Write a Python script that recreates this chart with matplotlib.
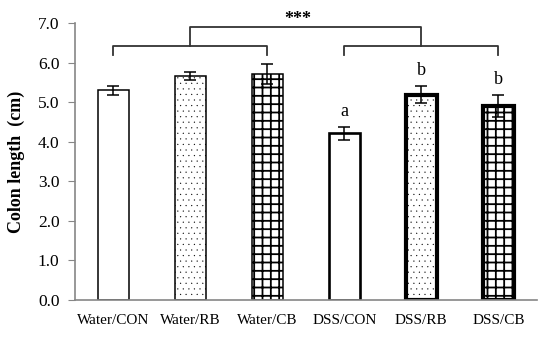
import matplotlib
matplotlib.use('Agg')
import matplotlib.pyplot as plt

plt.rcParams['font.family'] = ['Liberation Serif', 'DejaVu Serif']
plt.rcParams['hatch.linewidth'] = 1.3

groups = ['Water/CON', 'Water/RB', 'Water/CB', 'DSS/CON', 'DSS/RB', 'DSS/CB']
lengths = [5.3, 5.66, 5.71, 4.21, 5.19, 4.91]
errors = [0.11, 0.10, 0.26, 0.16, 0.21, 0.28]
letters = ['', '', '', 'a', 'b', 'b']
hatches = ['', '...', '++', '', '...', '++']
edge_w = [1.1, 1.1, 1.1, 1.9, 3.0, 3.0]

fig = plt.figure(figsize=(5.5, 3.39), dpi=100)
ax = fig.add_axes([0.136, 0.115, 0.84, 0.817])

x = range(len(groups))
for i in x:
    b = ax.bar(i, lengths[i], width=0.4, color='white', edgecolor='black',
               hatch=hatches[i], linewidth=edge_w[i], zorder=2)
    if hatches[i] == '...':
        b[0].set_hatch_linewidth(0.1)
ax.errorbar(list(x), lengths, yerr=errors, fmt='none', ecolor='black',
            elinewidth=1.1, capsize=4, capthick=1.1, zorder=3)

for i in x:
    if letters[i]:
        ax.text(i, lengths[i] + errors[i] + 0.18, letters[i], ha='center',
                va='bottom', fontsize=13)

# significance brackets
bk = dict(color='#333333', lw=1.3, clip_on=False)
ax.plot([0, 0, 2, 2], [6.2, 6.42, 6.42, 6.2], **bk)
ax.plot([3, 3, 5, 5], [6.2, 6.42, 6.42, 6.2], **bk)
ax.plot([1, 1, 4, 4], [6.42, 6.9, 6.9, 6.42], **bk)
ax.text(2.4, 7.1, '***', ha='center', va='center', fontsize=13,
        fontweight='bold', clip_on=False)

ax.set_xlim(-0.5, 5.5)
ax.set_ylim(0, 7)
ax.set_yticks([0, 1, 2, 3, 4, 5, 6, 7])
ax.set_yticklabels(['%.1f' % v for v in range(8)], fontsize=12.5)
ax.set_xticks(list(x))
ax.set_xticklabels(groups, fontsize=11)
ax.tick_params(axis='x', length=0, pad=10)
ax.tick_params(axis='y', length=5, color='#868686', pad=6)
ax.set_ylabel('Colon length  (cm)', fontsize=13, fontweight='bold', labelpad=9)

for s in ['top', 'right']:
    ax.spines[s].set_visible(False)
for s in ['left', 'bottom']:
    ax.spines[s].set_color('#868686')
    ax.spines[s].set_linewidth(1.2)

fig.savefig('out.png', dpi=100)
